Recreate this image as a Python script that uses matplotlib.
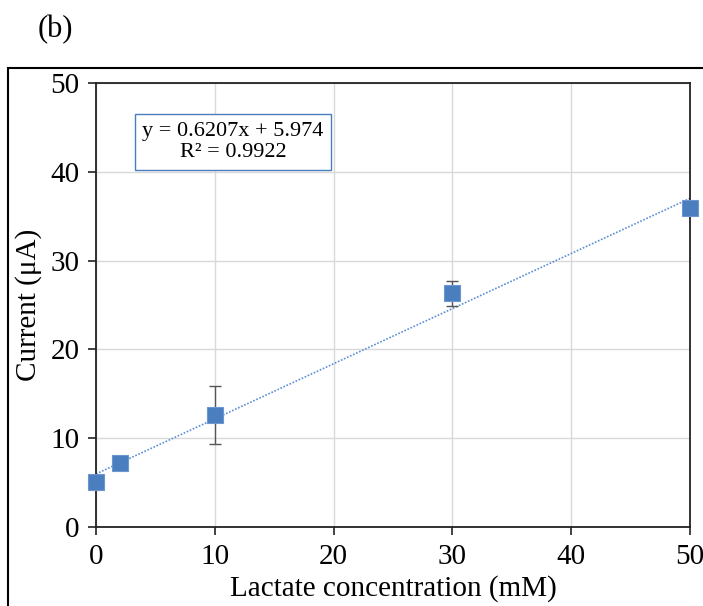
import matplotlib
matplotlib.use("Agg")
import matplotlib.pyplot as plt
from matplotlib.patches import Rectangle
import numpy as np

conc = [0, 2, 10, 30, 50]
current = [5.1, 7.2, 12.6, 26.3, 35.9]
err = [0.0, 0.0, 3.3, 1.4, 0.0]
slope = 0.6207
intercept = 5.974
eq_text = "y = 0.6207x + 5.974\nR² = 0.9922"
xticks = [0, 10, 20, 30, 40, 50]
yticks = [0, 10, 20, 30, 40, 50]

plt.rcParams['font.family'] = ['Liberation Serif', 'DejaVu Serif']

fig = plt.figure(figsize=(7.03, 6.06), dpi=100)
W, H = 703, 606
ax = fig.add_axes([96 / W, 1 - 527 / H, (690 - 96) / W, (527 - 83) / H])

color = '#4a7ebf'
xs = np.array([0, 50])
ax.plot(xs, slope * xs + intercept, linestyle=(0, (1, 1)), color='#5b8fd6', lw=1.2, zorder=2)
ax.errorbar(conc, current, yerr=err, fmt='none', ecolor='#555555', elinewidth=1.0,
            capsize=4, capthick=1.0, zorder=3)
ax.plot(conc, current, 's', color=color, markersize=11, markeredgecolor='#6d95cf',
        markeredgewidth=0.8, zorder=4, clip_on=False)

ax.set_xlim(0, 50)
ax.set_ylim(0, 50)
ax.set_xticks(xticks)
ax.set_yticks(yticks)
ax.grid(True, color='#d9d9d9', lw=1.0)
ax.set_axisbelow(True)
for s in ax.spines.values():
    s.set_color('#222222')
    s.set_linewidth(1.3)
ax.tick_params(direction='out', length=6, width=1.2, labelsize=21, color='#222222', pad=6)
ax.set_xlabel('Lactate concentration (mM)', fontsize=21, labelpad=4)
ax.set_ylabel('Current (μA)', fontsize=21, labelpad=6)

fig.text((133 + 333) / 2 / W, 1 - 142 / H, eq_text, ha='center', va='center',
         fontsize=16, linespacing=1.15,
         bbox=dict(boxstyle='square,pad=0.35', fc='white', ec='#4a7ebf', lw=1.0))

fig.text(38 / W, 1 - 30 / H, '(b)', fontsize=22, ha='left', va='center')

frame = Rectangle((8 / W, -0.05), 1.0, 1 - 68 / H + 0.05, transform=fig.transFigure,
                  fill=False, ec='black', lw=1.5)
fig.patches.append(frame)

fig.savefig('out.png', dpi=100)
